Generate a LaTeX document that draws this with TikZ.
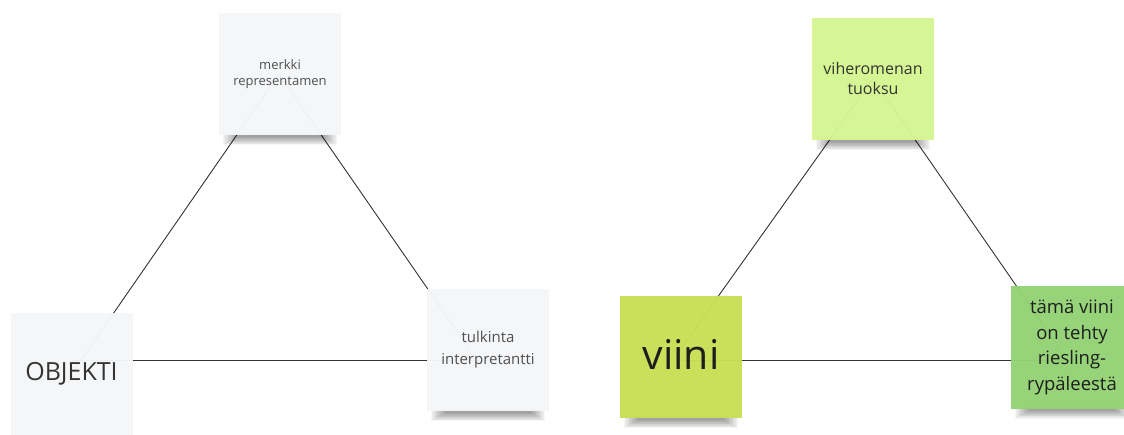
\documentclass[tikz,border=0pt]{standalone}
\usepackage{fontspec}
\setmainfont{Open Sans}
\usetikzlibrary{calc}

\definecolor{notegray}{HTML}{F5F6F8}
\definecolor{notelime}{HTML}{D5F692}
\definecolor{noteolive}{HTML}{C9DF56}
\definecolor{notegreen}{HTML}{93D275}
\definecolor{linkgray}{HTML}{333333}
\definecolor{txtgray}{HTML}{505050}
\definecolor{txtdark}{HTML}{1E1E1E}

% soft shadow under the lower edge of a sticky note
\newcommand\noteshadow[1]{%
  \foreach \i in {0,...,11}{%
    \fill[black, opacity=0.035]
      ($(#1.south west)+(4+\i*1.3,-2)$) rectangle ($(#1.south east)+(-4-\i*1.3,10-0.75*\i)$);
  }%
}

\tikzset{
  sticky/.style={minimum width=122pt, minimum height=122pt, inner sep=2pt,
    align=center, fill opacity=0.965, text opacity=1},
  link/.style={draw=linkgray, line width=0.9pt},
}

\begin{document}
\begin{tikzpicture}[x=1pt, y=-1pt]
  \fill[white] (0,0) rectangle (1124,435);
  \useasboundingbox (0,0) rectangle (1124,435);

  % centres of the sticky notes
  \path
    (280,74)   coordinate (pm)
    (71.5,374) coordinate (po)
    (488,350)  coordinate (pt)
    (873,79)   coordinate (pv)
    (681,357)  coordinate (pw)
    (1072,347.5) coordinate (pr);

  % left triangle connectors
  \coordinate (mA) at ($(pm)+(-1,0)$);
  \coordinate (tA) at ($(pt)+(-18,0)$);
  \coordinate (hL) at ($(pt)+(0,10)$);
  \draw[link] (mA) -- (po);
  \draw[link] (mA) -- (tA);
  \draw[link] (po |- hL) -- (hL);

  % right triangle connectors
  \coordinate (wA) at ($(pw)+(-6,0)$);
  \coordinate (rA) at ($(pr)+(-13,0)$);
  \coordinate (hR) at ($(pw)+(0,3)$);
  \draw[link] (pv) -- (wA);
  \draw[link] (pv) -- (rA);
  \draw[link] (hR) -- (pr |- hR);

  % shadows and sticky notes
  \node[sticky, draw=none] (merkki) at (pm) {};
  \node[sticky, draw=none] (tulk) at (pt) {};
  \node[sticky, draw=none] (vihr) at (pv) {};
  \node[sticky, draw=none] (viini) at (pw) {};
  \node[sticky, draw=none] (tama) at (pr) {};
  \noteshadow{merkki}
  \noteshadow{tulk}
  \noteshadow{vihr}
  \noteshadow{viini}
  \noteshadow{tama}

  \node[sticky, fill=notegray, text=txtgray,
        font=\fontsize{13}{16.5}\selectfont] (merkkiN) at (pm) {merkki\\representamen};
  \node[sticky, fill=notegray, text=linkgray,
        font=\fontsize{25}{30}\selectfont] (objekti) at (po) {\raisebox{3pt}{OBJEKTI}};
  \node[sticky, fill=notegray, text=txtgray,
        font=\fontsize{15}{22}\selectfont] (tulkN) at (pt) {tulkinta\\interpretantti};

  \node[sticky, fill=notelime, text=linkgray,
        font=\fontsize{16}{20}\selectfont] (vihrN) at (pv) {viheromenan\\tuoksu};
  \node[sticky, fill=noteolive, text=txtdark,
        font=\fontsize{41}{48}\selectfont] (viiniN) at (pw) {\raisebox{6pt}{viini}};
  \node[sticky, fill=notegreen, text=txtdark,
        font=\fontsize{18.5}{25.5}\selectfont] (tamaN) at (pr) {tämä viini\\on tehty\\riesling-\\rypäleestä};
\end{tikzpicture}
\end{document}
